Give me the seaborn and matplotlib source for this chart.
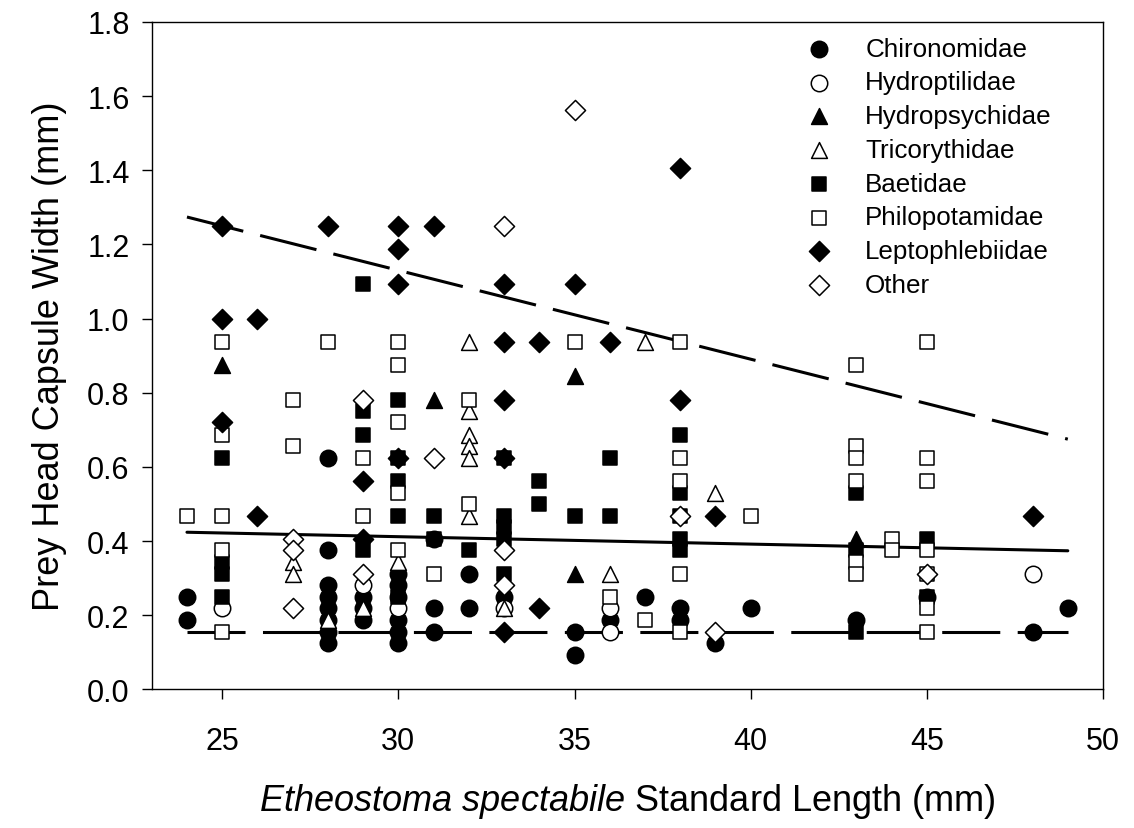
import matplotlib
matplotlib.use("Agg")
import matplotlib.pyplot as plt
import seaborn as sns

# ---- prey records: fish standard length (mm) vs prey head capsule width (mm) ----
chiro_len = [24, 24, 28, 28, 28, 28, 28, 28, 28, 28, 29, 29, 29,
             30, 30, 30, 30, 30, 30, 31, 31, 31, 32, 32, 33, 35, 35,
             36, 37, 38, 38, 39, 40, 43, 45, 48, 49]
chiro_w = [0.25, 0.1875, 0.625, 0.375, 0.281, 0.25, 0.219, 0.1875, 0.156, 0.125,
           0.25, 0.219, 0.1875,
           0.3125, 0.281, 0.25, 0.1875, 0.156, 0.125, 0.406, 0.219, 0.156,
           0.3125, 0.219, 0.25, 0.156, 0.094,
           0.1875, 0.25, 0.219, 0.1875, 0.125, 0.219, 0.1875, 0.25, 0.156, 0.219]

hydroptil_len = [25, 29, 30, 33, 36, 36, 48]
hydroptil_w = [0.219, 0.281, 0.219, 0.219, 0.219, 0.156, 0.3125]

hydropsy_len = [25, 31, 35, 35, 43]
hydropsy_w = [0.875, 0.78, 0.844, 0.3125, 0.406]

trico_len = [27, 27, 28, 29, 30, 32, 32, 32, 32, 32, 32, 33, 36, 37, 39]
trico_w = [0.344, 0.3125, 0.1875, 0.219, 0.344, 0.9375, 0.75, 0.6875, 0.656,
           0.625, 0.469, 0.219, 0.3125, 0.9375, 0.531]

baet_len = [25, 25, 25, 25, 29, 29, 29, 29, 30, 30, 30, 30, 30, 31, 31, 32,
            33, 33, 33, 33, 33, 34, 34, 35, 36, 36, 38, 38, 38, 38, 38,
            43, 43, 43, 45, 45]
baet_w = [0.625, 0.344, 0.3125, 0.25, 1.094, 0.75, 0.6875, 0.375,
          0.78, 0.625, 0.5625, 0.469, 0.25, 0.469, 0.406, 0.375,
          0.625, 0.469, 0.4375, 0.406, 0.3125, 0.5625, 0.5, 0.469, 0.625, 0.469,
          0.6875, 0.531, 0.469, 0.406, 0.375, 0.531, 0.375, 0.156, 0.406, 0.25]

philo_len = [24, 25, 25, 25, 25, 25, 27, 27, 28, 29, 29, 30, 30, 30, 30, 30,
             31, 32, 32, 35, 36, 37, 38, 38, 38, 38, 38, 40,
             43, 43, 43, 43, 43, 43, 44, 44, 45, 45, 45, 45, 45, 45, 45]
philo_w = [0.469, 0.9375, 0.6875, 0.469, 0.375, 0.156, 0.78, 0.656, 0.9375,
           0.625, 0.469, 0.9375, 0.875, 0.72, 0.531, 0.375,
           0.3125, 0.78, 0.5, 0.9375, 0.25, 0.1875, 0.9375, 0.625, 0.5625,
           0.3125, 0.156, 0.469,
           0.875, 0.656, 0.625, 0.5625, 0.344, 0.3125, 0.406, 0.375,
           0.9375, 0.625, 0.5625, 0.375, 0.3125, 0.219, 0.156]

lepto_len = [25, 25, 25, 26, 26, 28, 29, 29, 30, 30, 30, 30, 31,
             33, 33, 33, 33, 33, 34, 34, 35, 36, 38, 38, 39, 48]
lepto_w = [1.25, 1.0, 0.72, 1.0, 0.469, 1.25, 0.5625, 0.406, 1.25, 1.1875, 1.094,
           0.625, 1.25, 1.094, 0.9375, 0.78, 0.625, 0.156, 0.9375, 0.219,
           1.094, 0.9375, 1.406, 0.78, 0.469, 0.469]

other_len = [27, 27, 27, 29, 29, 31, 33, 33, 33, 35, 38, 39, 45]
other_w = [0.406, 0.375, 0.219, 0.78, 0.3125, 0.625, 1.25, 0.375, 0.281,
           1.5625, 0.469, 0.156, 0.3125]

# fitted lines (upper quantile, central trend, lower quantile)
fit_len = [24, 49]
fit_upper = [1.274, 0.675]
fit_mid = [0.424, 0.374]
fit_lower = [0.156, 0.156]

families = ["Chironomidae", "Hydroptilidae", "Hydropsychidae", "Tricorythidae",
            "Baetidae", "Philopotamidae", "Leptophlebiidae", "Other"]

sns.set_style("ticks")
plt.rcParams["font.family"] = ["Liberation Sans", "DejaVu Sans"]
plt.rcParams["mathtext.fontset"] = "custom"
plt.rcParams["mathtext.rm"] = "Liberation Sans"
plt.rcParams["mathtext.it"] = "Liberation Sans:italic"
for key in ("text.color", "axes.labelcolor", "xtick.color", "ytick.color",
            "axes.edgecolor"):
    plt.rcParams[key] = "black"

fig = plt.figure(figsize=(11.34, 8.29), dpi=100)
ax = fig.add_axes([0.1338, 0.1671, 0.8389, 0.8052])

dash = (19, 5.7)
ax.plot(fit_len, fit_upper, color="black", lw=2.2, dashes=dash, zorder=1)
ax.plot(fit_len, fit_mid, color="black", lw=2.2, zorder=1)
ax.plot(fit_len, fit_lower, color="black", lw=2.2, dashes=dash, zorder=1)

series = [
    (chiro_len, chiro_w, "o", "black", 140),
    (hydroptil_len, hydroptil_w, "o", "white", 140),
    (hydropsy_len, hydropsy_w, "^", "black", 130),
    (trico_len, trico_w, "^", "white", 130),
    (baet_len, baet_w, "s", "black", 110),
    (philo_len, philo_w, "s", "white", 110),
    (lepto_len, lepto_w, "D", "black", 105),
    (other_len, other_w, "D", "white", 105),
]
for name, (xs, ys, mk, face, size) in zip(families, series):
    sns.scatterplot(x=xs, y=ys, marker=mk, s=size, color=face,
                    edgecolor="black", linewidth=1.1, label=name,
                    ax=ax, zorder=3, legend=True)

ax.set_xlim(23, 50)
ax.set_ylim(0, 1.8)
ax.set_xticks([25, 30, 35, 40, 45, 50])
ax.set_yticks([0.0, 0.2, 0.4, 0.6, 0.8, 1.0, 1.2, 1.4, 1.6, 1.8])
ax.set_yticklabels([f"{v:.1f}" for v in ax.get_yticks()])
ax.tick_params(direction="out", length=7, width=1, labelsize=22,
               top=False, right=False, colors="black")
ax.tick_params(axis="x", pad=19)
ax.tick_params(axis="y", pad=9)
for sp in ax.spines.values():
    sp.set_visible(True)
    sp.set_linewidth(1.0)
    sp.set_color("black")

ax.set_ylabel("Prey Head Capsule Width (mm)", fontsize=26, labelpad=14)
ax.set_xlabel(r"$\mathit{Etheostoma\ spectabile}$ Standard Length (mm)",
              fontsize=26, labelpad=18)

ax.legend(loc="upper left", bbox_to_anchor=(0.688, 0.978), frameon=False,
          fontsize=18.7, handlelength=1.0, handletextpad=1.27,
          labelspacing=0.375, borderpad=0, borderaxespad=0)

fig.savefig("out.png", dpi=100)
